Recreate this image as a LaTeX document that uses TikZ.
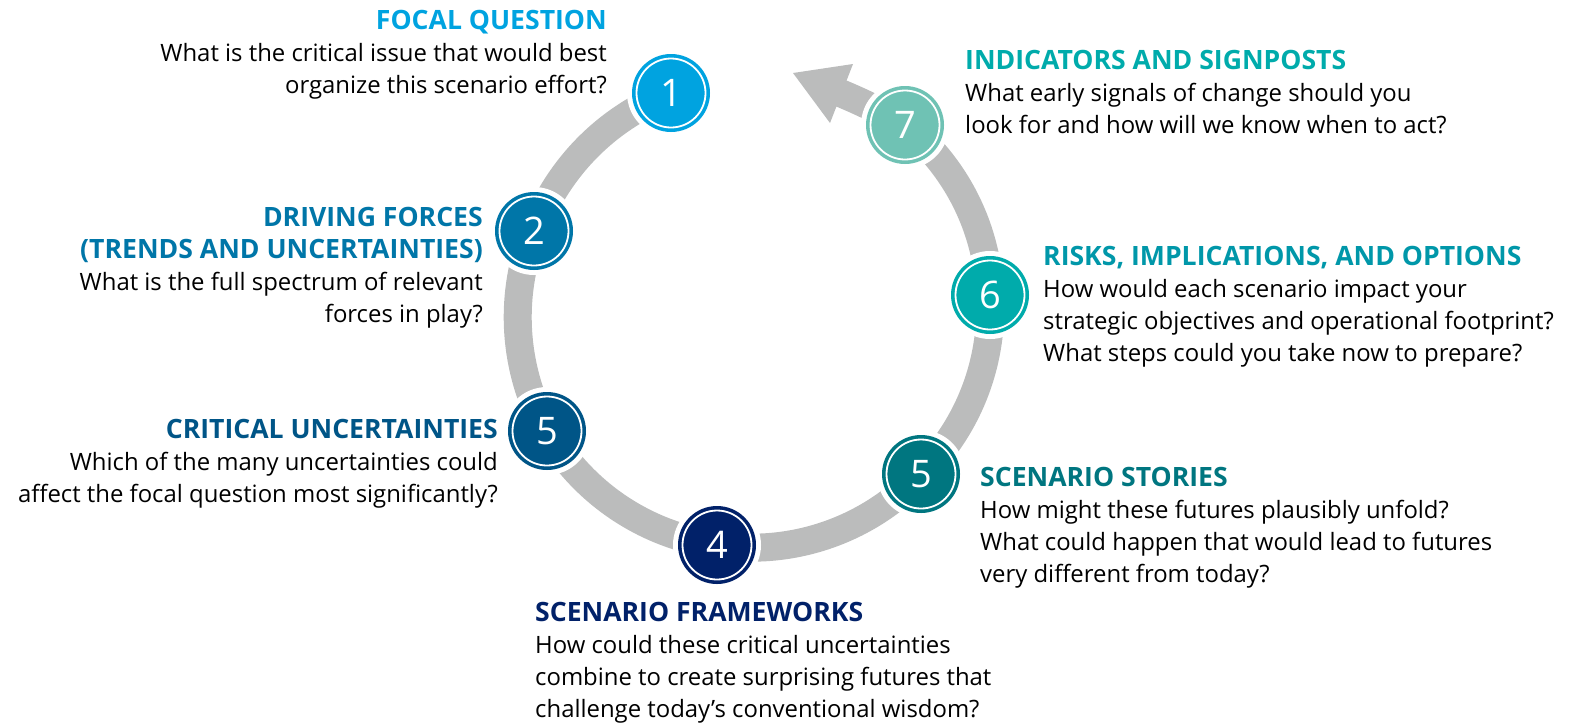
\documentclass[tikz,border=0pt]{standalone}
\usepackage{fontspec}
\setmainfont{Open Sans}
\usetikzlibrary{backgrounds}
\definecolor{cOne}{HTML}{00A3E0}
\definecolor{cTwo}{HTML}{0076A8}
\definecolor{cCrit}{HTML}{005587}
\definecolor{cFour}{HTML}{012169}
\definecolor{cStory}{HTML}{007680}
\definecolor{cSix}{HTML}{00ABAB}
\definecolor{cSixH}{HTML}{0097A9}
\definecolor{cSeven}{HTML}{6FC2B4}
\definecolor{cSevenH}{HTML}{00ABAB}
\definecolor{cGrey}{HTML}{BBBCBC}
\newcommand\linesR[1]{\vtop{\baselineskip=32pt\lineskiplimit=-100pt\lineskip=0pt\halign{\hfil##\cr#1\crcr}}}
\newcommand\linesL[1]{\vtop{\baselineskip=32pt\lineskiplimit=-100pt\lineskip=0pt\halign{##\hfil\cr#1\crcr}}}
\newcommand\hd[2]{{\color{#1}\fontsize{26.6}{32}\selectfont\bfseries #2}}
\tikzset{
  stepnode/.style={circle, minimum size=78pt, inner sep=0pt, text=white,
    font=\fontsize{38}{40}\selectfont,
    preaction={draw=white, line width=10pt},
    path picture={\draw[white, line width=1.8pt] (path picture bounding box.center) circle[radius=34.5pt];}},
  arcline/.style={draw=cGrey, line width=28pt, looseness=0.9},
  headfill/.style={fill=cGrey},
  txt/.style={inner sep=0pt, text=black, font=\fontsize{23.9}{32}\selectfont}
}
\begin{document}
\begin{tikzpicture}[x=1pt,y=1pt]
\useasboundingbox (0,0) rectangle (1592,-724);
% step circles
\node[stepnode, fill=cOne]   (n1) at (671,-93)  {1};
\node[stepnode, fill=cTwo]   (n2) at (534,-231) {2};
\node[stepnode, fill=cCrit]  (n3) at (547,-431) {5};
\node[stepnode, fill=cFour]  (n4) at (717,-545) {4};
\node[stepnode, fill=cStory] (n5) at (921,-474) {5};
\node[stepnode, fill=cSix]   (n6) at (990,-295) {6};
\node[stepnode, fill=cSeven] (n7) at (905,-125) {7};
% arrow head points
\coordinate (tip) at (793,-73);
\coordinate (hu) at (853,-64);
\coordinate (hl) at (830,-123);
\coordinate (shaftend) at (834,-90.5);
% cycle arrow
\begin{scope}[on background layer]
\draw[arcline] (n1.center) to[bend right=24] (n2.center);
\draw[arcline] (n2.center) to[bend right=25] (n3.center);
\draw[arcline] (n3.center) to[bend right=26] (n4.center);
\draw[arcline] (n4.center) to[bend right=28] (n5.center);
\draw[arcline] (n5.center) to[bend right=24] (n6.center);
\draw[arcline] (n6.center) to[bend right=24] (n7.center);
\draw[arcline] (n7.center) to[bend right=4] (shaftend);
\fill[headfill] (tip) -- (hu) -- (hl) -- cycle;
\end{scope}
% labels
\node[txt, anchor=base east] (t1) at (607,-29) {\linesR{\hd{cOne}{FOCAL QUESTION}\cr
What is the critical issue that would best\cr organize this scenario effort?}};
\node[txt, anchor=base east] (t2) at (483,-226) {\linesR{\hd{cTwo}{DRIVING FORCES}\cr
\hd{cTwo}{(TRENDS AND UNCERTAINTIES)}\cr What is the full spectrum of relevant\cr forces in play?}};
\node[txt, anchor=base east] (t3) at (498,-438) {\linesR{\hd{cCrit}{CRITICAL UNCERTAINTIES}\cr
Which of the many uncertainties could\cr affect the focal question most significantly?}};
\node[txt, anchor=base west] (t4) at (535,-621) {\linesL{\hd{cFour}{SCENARIO FRAMEWORKS}\cr
How could these critical uncertainties\cr combine to create surprising futures that\cr challenge today’s conventional wisdom?}};
\node[txt, anchor=base west] (t5) at (980,-486) {\linesL{\hd{cStory}{SCENARIO STORIES}\cr
How might these futures plausibly unfold?\cr What could happen that would lead to futures\cr very different from today?}};
\node[txt, anchor=base west] (t6) at (1043,-265) {\linesL{\hd{cSixH}{RISKS, IMPLICATIONS, AND OPTIONS}\cr
How would each scenario impact your\cr strategic objectives and operational footprint?\cr What steps could you take now to prepare?}};
\node[txt, anchor=base west] (t7) at (965,-69) {\linesL{\hd{cSevenH}{INDICATORS AND SIGNPOSTS}\cr
What early signals of change should you\cr look for and how will we know when to act?}};
\end{tikzpicture}
\end{document}
